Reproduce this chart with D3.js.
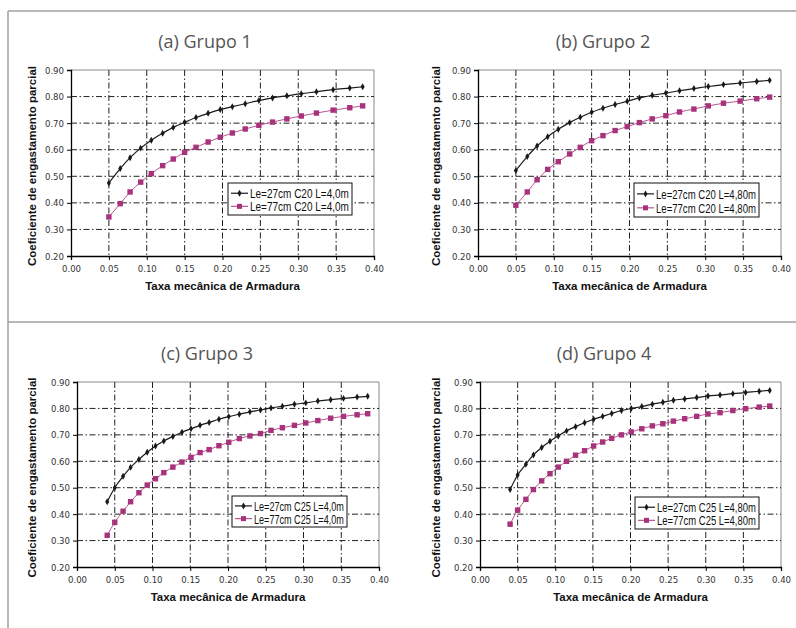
<!DOCTYPE html>
<html>
<head>
<meta charset="utf-8">
<script src="https://cdn.jsdelivr.net/npm/d3@7"></script>
<style>
  html, body { margin: 0; padding: 0; background: #fff; }
  svg { display: block; }
  .tick text { font-family: "DejaVu Sans Condensed", "Liberation Sans", sans-serif; font-size: 9.5px; fill: #333; }
</style>
</head>
<body>
<svg id="chart"></svg>
<script>
// x values (taxa mecanica de armadura)
const xAB = [0.050, 0.065, 0.078, 0.092, 0.106, 0.121, 0.135, 0.150, 0.165, 0.181, 0.197,
  0.213, 0.230, 0.248, 0.266, 0.285, 0.304, 0.324, 0.346, 0.368, 0.385];
const xCD = [0.040, 0.050, 0.061, 0.071, 0.082, 0.093, 0.104, 0.115, 0.127, 0.139, 0.151,
  0.163, 0.175, 0.188, 0.201, 0.215, 0.229, 0.243, 0.257, 0.272, 0.288, 0.303, 0.319,
  0.336, 0.353, 0.371, 0.385];

// coeficiente de engastamento parcial
const a27 = [0.475, 0.529, 0.570, 0.606, 0.636, 0.662, 0.684, 0.703, 0.721, 0.737, 0.751,
  0.762, 0.773, 0.785, 0.795, 0.803, 0.811, 0.818, 0.826, 0.832, 0.837];
const a77 = [0.347, 0.397, 0.441, 0.478, 0.510, 0.540, 0.565, 0.590, 0.609, 0.629, 0.647,
  0.663, 0.678, 0.692, 0.704, 0.716, 0.727, 0.738, 0.749, 0.758, 0.765];
const b27 = [0.522, 0.574, 0.614, 0.649, 0.677, 0.702, 0.722, 0.741, 0.756, 0.770, 0.782,
  0.795, 0.805, 0.813, 0.822, 0.830, 0.838, 0.845, 0.851, 0.857, 0.861];
const b77 = [0.391, 0.441, 0.487, 0.526, 0.555, 0.584, 0.609, 0.634, 0.653, 0.672, 0.687,
  0.702, 0.716, 0.728, 0.742, 0.753, 0.765, 0.775, 0.783, 0.792, 0.798];
const c27 = [0.447, 0.500, 0.543, 0.577, 0.607, 0.634, 0.658, 0.677, 0.694, 0.710, 0.723,
  0.736, 0.747, 0.759, 0.769, 0.778, 0.787, 0.794, 0.802, 0.808, 0.816, 0.821, 0.828,
  0.833, 0.838, 0.843, 0.846];
const c77 = [0.320, 0.369, 0.411, 0.447, 0.481, 0.510, 0.534, 0.557, 0.578, 0.597, 0.615,
  0.633, 0.644, 0.659, 0.672, 0.686, 0.696, 0.705, 0.717, 0.727, 0.736, 0.745, 0.754,
  0.763, 0.770, 0.776, 0.780];
const d27 = [0.493, 0.548, 0.589, 0.624, 0.652, 0.676, 0.696, 0.715, 0.731, 0.746, 0.759,
  0.770, 0.781, 0.792, 0.800, 0.807, 0.816, 0.823, 0.831, 0.836, 0.841, 0.847, 0.851,
  0.856, 0.860, 0.865, 0.868];
const d77 = [0.362, 0.415, 0.456, 0.493, 0.526, 0.553, 0.578, 0.600, 0.623, 0.640, 0.658,
  0.673, 0.687, 0.700, 0.711, 0.723, 0.734, 0.742, 0.752, 0.761, 0.770, 0.779, 0.784,
  0.792, 0.799, 0.805, 0.809];

const titles = ["(a) Grupo 1", "(b) Grupo 2", "(c) Grupo 3", "(d) Grupo 4"];
const legend27 = ["Le=27cm C20 L=4,0m", "Le=27cm C20 L=4,80m", "Le=27cm C25 L=4,0m", "Le=27cm C25 L=4,80m"];
const legend77 = ["Le=77cm C20 L=4,0m", "Le=77cm C20 L=4,80m", "Le=77cm C25 L=4,0m", "Le=77cm C25 L=4,80m"];

const xTicks = [0, 0.05, 0.10, 0.15, 0.20, 0.25, 0.30, 0.35, 0.40];
const yTicks = [0.20, 0.30, 0.40, 0.50, 0.60, 0.70, 0.80, 0.90];
const yLabel = "Coeficiente de engastamento parcial";
const xLabel = "Taxa mecânica de Armadura";

// layout of each panel (pixels)
const layout = [
  { x0: 71, x1: 374, y0: 70, y1: 256, cx: 205, ty: 48, lx: 228, ly: 183, lw: 124, lh: 32, labX: 33 },
  { x0: 478, x1: 781, y0: 70, y1: 256, cx: 603, ty: 48, lx: 634, ly: 183, lw: 125, lh: 34, labX: 437 },
  { x0: 77, x1: 379, y0: 382, y1: 567, cx: 207, ty: 360, lx: 232, ly: 496, lw: 115, lh: 31, labX: 33 },
  { x0: 480, x1: 781, y0: 382, y1: 567, cx: 604, ty: 360, lx: 635, ly: 497, lw: 124, lh: 32, labX: 437 },
];

const panels = [
  { xs: xAB, s27: a27, s77: a77 },
  { xs: xAB, s27: b27, s77: b77 },
  { xs: xCD, s27: c27, s77: c77 },
  { xs: xCD, s27: d27, s77: d77 },
];

const black = "#1a1a1a",
      magenta = "#a8327c",
      magentaLine = "#b8568f";
const gridDash = "6,2.5,1.5,2.5";

let svg = d3.select("#chart")
  .attr("width", 796)
  .attr("height", 628);

svg.append("rect").attr("width", 796).attr("height", 628).attr("fill", "#fff");

// gray frame of the figure
const frameColor = "#a0a0a0";
svg.append("line").attr("x1", 8).attr("x2", 796).attr("y1", 11).attr("y2", 11)
  .attr("stroke", frameColor).attr("stroke-width", 1.5);
svg.append("line").attr("x1", 8).attr("x2", 796).attr("y1", 322).attr("y2", 322)
  .attr("stroke", frameColor).attr("stroke-width", 1.5);
svg.append("line").attr("x1", 8).attr("x2", 8).attr("y1", 11).attr("y2", 628)
  .attr("stroke", frameColor).attr("stroke-width", 1.5);

const diamond = d3.symbol().type(d3.symbolDiamond).size(14);

const drawPanel = (p, L, i) => {
  let g = svg.append("g");

  let x = d3.scaleLinear().domain([0, 0.40]).range([L.x0, L.x1]);
  let y = d3.scaleLinear().domain([0.20, 0.90]).range([L.y1, L.y0]);

  // title
  g.append("text")
    .attr("x", L.cx).attr("y", L.ty)
    .attr("text-anchor", "middle")
    .attr("font-family", "'Open Sans', 'Noto Sans', sans-serif")
    .attr("font-size", 18)
    .attr("fill", "#555")
    .text(titles[i]);

  // plot border (top & right gray)
  g.append("path")
    .attr("d", `M${L.x0},${L.y0}H${L.x1}V${L.y1}`)
    .attr("fill", "none").attr("stroke", "#8a8a8a").attr("stroke-width", 1);

  // grid
  g.selectAll(".hgrid").data(yTicks.slice(1, -1)).enter().append("line")
    .attr("x1", L.x0).attr("x2", L.x1)
    .attr("y1", d => y(d)).attr("y2", d => y(d))
    .attr("stroke", "#222").attr("stroke-width", 1)
    .attr("stroke-dasharray", gridDash);
  g.selectAll(".vgrid").data(xTicks.slice(1, -1)).enter().append("line")
    .attr("x1", d => x(d)).attr("x2", d => x(d))
    .attr("y1", L.y0).attr("y2", L.y1)
    .attr("stroke", "#222").attr("stroke-width", 1)
    .attr("stroke-dasharray", gridDash);

  // axes
  let ax = g.append("g")
    .attr("transform", `translate(0,${L.y1})`)
    .call(d3.axisBottom(x).tickValues(xTicks).tickFormat(d3.format(".2f")).tickSizeOuter(0).tickSize(4).tickPadding(5));
  let ay = g.append("g")
    .attr("transform", `translate(${L.x0},0)`)
    .call(d3.axisLeft(y).tickValues(yTicks).tickFormat(d3.format(".2f")).tickSizeOuter(0).tickSize(4).tickPadding(3));
  [ax, ay].forEach(a => {
    a.select(".domain").attr("stroke", "#000").attr("stroke-width", 1.3);
    a.selectAll(".tick line").attr("stroke", "#000");
  });

  // axis labels
  g.append("text")
    .attr("transform", `translate(${L.labX},${(L.y0 + L.y1) / 2 + 3}) rotate(-90)`)
    .attr("text-anchor", "middle")
    .attr("dominant-baseline", "middle")
    .attr("font-family", "'Liberation Sans', Arial, sans-serif")
    .attr("font-weight", "bold")
    .attr("font-size", 11.5)
    .attr("fill", "#111")
    .text(yLabel);
  g.append("text")
    .attr("x", (L.x0 + L.x1) / 2).attr("y", L.y1 + 34)
    .attr("text-anchor", "middle")
    .attr("font-family", "'Liberation Sans', Arial, sans-serif")
    .attr("font-weight", "bold")
    .attr("font-size", 11.5)
    .attr("fill", "#111")
    .text(xLabel);

  // series
  let line = d3.line().x(d => x(d[0])).y(d => y(d[1])).curve(d3.curveMonotoneX);
  let pts77 = p.xs.map((v, k) => [v, p.s77[k]]);
  let pts27 = p.xs.map((v, k) => [v, p.s27[k]]);

  g.append("path").attr("d", line(pts77))
    .attr("fill", "none").attr("stroke", magentaLine).attr("stroke-width", 1);
  g.selectAll(".m77").data(pts77).enter().append("rect")
    .attr("x", d => x(d[0]) - 2.7).attr("y", d => y(d[1]) - 2.7)
    .attr("width", 5.4).attr("height", 5.4)
    .attr("fill", magenta);

  g.append("path").attr("d", line(pts27))
    .attr("fill", "none").attr("stroke", black).attr("stroke-width", 1.2);
  g.selectAll(".m27").data(pts27).enter().append("path")
    .attr("d", diamond)
    .attr("transform", d => `translate(${x(d[0])},${y(d[1])})`)
    .attr("fill", black);

  // legend
  let lg = g.append("g").attr("transform", `translate(${L.lx},${L.ly})`);
  lg.append("rect").attr("width", L.lw).attr("height", L.lh)
    .attr("fill", "#fff").attr("stroke", "#111").attr("stroke-width", 1);
  const rows = [
    { label: legend27[i], color: black, sq: false },
    { label: legend77[i], color: magenta, sq: true },
  ];
  rows.forEach((r, k) => {
    let cy = L.lh * (k === 0 ? 0.32 : 0.73);
    lg.append("line").attr("x1", 3).attr("x2", 20).attr("y1", cy).attr("y2", cy)
      .attr("stroke", r.sq ? magentaLine : black).attr("stroke-width", 1.2);
    if (r.sq) {
      lg.append("rect").attr("x", 9).attr("y", cy - 2.5).attr("width", 5).attr("height", 5).attr("fill", magenta);
    } else {
      lg.append("path").attr("d", diamond).attr("transform", `translate(11.5,${cy})`).attr("fill", black);
    }
    // condensed label: squeeze horizontally to fit the box
    let tg = lg.append("g").attr("transform", `translate(22,${cy + 0.5})`);
    let t = tg.append("text")
      .attr("dominant-baseline", "central")
      .attr("font-family", "'Liberation Sans', Arial, sans-serif")
      .attr("font-size", 12)
      .attr("fill", "#111")
      .text(r.label);
    let w = t.node().getComputedTextLength();
    let k2 = Math.min(1, (L.lw - 25) / w);
    tg.attr("transform", `translate(22,${cy + 0.5}) scale(${k2},1)`);
  });
};

panels.forEach((p, i) => drawPanel(p, layout[i], i));
</script>
</body>
</html>
